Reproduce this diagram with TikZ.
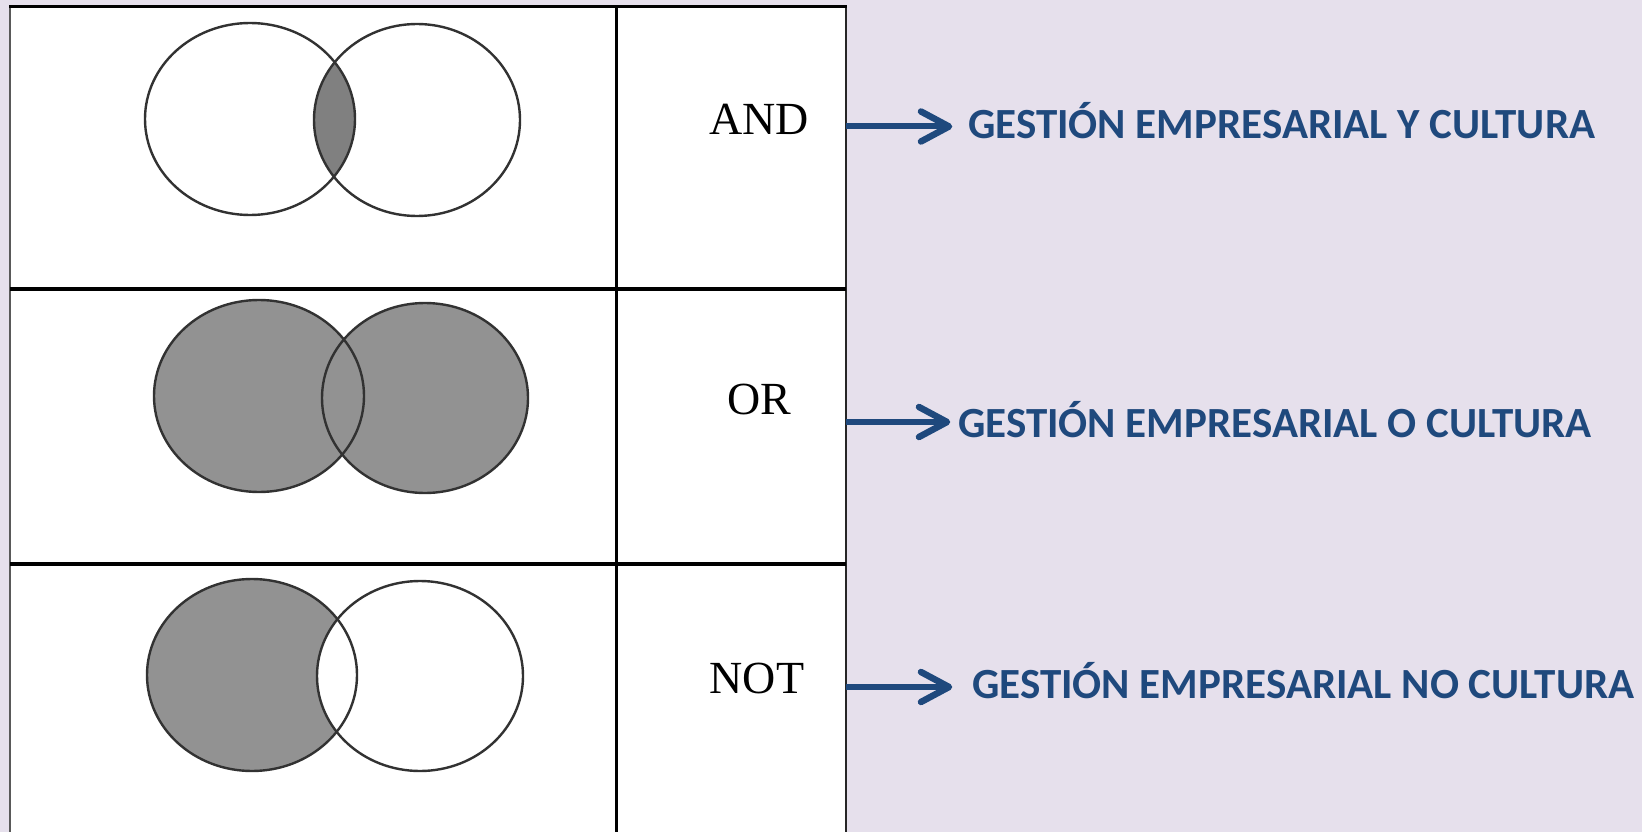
\documentclass[tikz,border=0pt]{standalone}
\usepackage{fontspec}
\setmainfont{Liberation Serif}
\newfontfamily\calib{Carlito}
\usetikzlibrary{arrows.meta}
\definecolor{bgc}{RGB}{230,224,236}
\definecolor{txtblue}{RGB}{31,73,125}
\definecolor{vfill}{RGB}{146,146,146}
\definecolor{lensfill}{RGB}{128,128,128}
\definecolor{vline}{RGB}{50,50,50}
\tikzset{
  venn/.style={draw=vline,line width=2.4pt},
  oplabel/.style={font=\fontsize{46}{54}\selectfont, inner sep=0pt, anchor=base},
  result/.style={font=\calib\bfseries\fontsize{43}{50}\selectfont, text=txtblue, anchor=base west, inner sep=0pt},
  arr/.style={draw=txtblue, line width=6pt},
  arrhead/.style={draw=txtblue, line width=6.5pt, line cap=round, line join=round},
  gridline/.style={line width=3pt, draw=black}
}
\begin{document}
\begin{tikzpicture}[x=1pt,y=-1pt]
\useasboundingbox (0,0) rectangle (1642,832);
\fill[bgc] (0,0) rectangle (1642,832);
% table
\fill[white] (10,7) rectangle (846,832);
\draw[line width=2pt, draw=black!65] (10,7) -- (10,832);
\draw[line width=2.5pt, draw=black!85] (846,7) -- (846,832);
\draw[gridline] (9,7) -- (847,7);
\draw[gridline, line width=3.5pt] (10,289) -- (846,289);
\draw[gridline, line width=3.5pt] (10,564) -- (846,564);
\draw[gridline] (616,7) -- (616,832);

% AND row
\begin{scope}
  \clip (250,119) ellipse [x radius=105pt, y radius=96pt];
  \fill[lensfill] (417,120) ellipse [x radius=103pt, y radius=96pt];
\end{scope}
\draw[venn] (250,119) ellipse [x radius=105pt, y radius=96pt];
\draw[venn] (417,120) ellipse [x radius=103pt, y radius=96pt];

% OR row
\fill[vfill] (259,396) ellipse [x radius=105pt, y radius=96pt];
\fill[vfill] (425,398) ellipse [x radius=103pt, y radius=95pt];
\draw[venn] (259,396) ellipse [x radius=105pt, y radius=96pt];
\draw[venn] (425,398) ellipse [x radius=103pt, y radius=95pt];

% NOT row
\fill[vfill] (252,675) ellipse [x radius=105pt, y radius=96pt];
\fill[white] (420,676) ellipse [x radius=103pt, y radius=95pt];
\draw[venn] (252,675) ellipse [x radius=105pt, y radius=96pt];
\draw[venn] (420,676) ellipse [x radius=103pt, y radius=95pt];

% operator labels
\node[oplabel] (and) at (759,135) {AND};
\node[oplabel] (or)  at (759,414) {OR};
\node[oplabel] (not) at (757,693) {NOT};

% results
\node[result] (t1) at (968,138.5) {GESTIÓN EMPRESARIAL Y CULTURA};
\node[result] (t2) at (958,437.5) {GESTIÓN EMPRESARIAL O CULTURA};
\node[result] (t3) at (972,698.5) {GESTIÓN EMPRESARIAL NO CULTURA};

% arrows
\coordinate (e1) at (846,126.5);
\coordinate (e2) at (846,422);
\coordinate (e3) at (846,687);
\coordinate (a1) at (949,126.5);
\coordinate (a2) at (947,422);
\coordinate (a3) at (949,687);
\foreach \e/\a in {e1/a1,e2/a2,e3/a3}{
  \draw[arr] (\e) -- ([xshift=-3pt]\a);
  \draw[arrhead] (\a) ++(-28,-15) -- (\a) -- ++(-28,15);
}
\end{tikzpicture}
\end{document}
